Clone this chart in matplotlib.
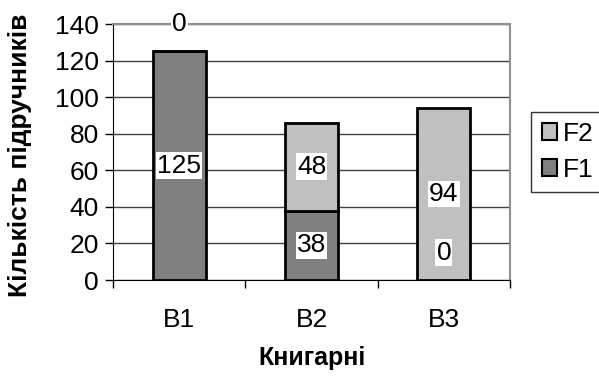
import matplotlib.pyplot as plt
import numpy as np

plt.rcParams['font.family'] = ['Liberation Sans', 'DejaVu Sans']

# дані
kategorii = ['B1', 'B2', 'B3']
f1 = [125, 38, 0]
f2 = [0, 48, 94]

fig = plt.figure(figsize=(5.99, 3.77), dpi=100)
ax = fig.add_axes([113 / 599, 1 - 280 / 377, (510 - 113) / 599, (280 - 24) / 377])

x = np.arange(len(kategorii))
w = 0.4
ax.bar(x, f1, w, color='#808080', edgecolor='black', linewidth=2, label='F1', zorder=3)
ax.bar(x, f2, w, bottom=f1, color='#c0c0c0', edgecolor='black', linewidth=2, label='F2', zorder=3)

fs = 19
ax.set_xlim(-0.5, 2.5)
ax.set_ylim(0, 140)
ax.set_yticks(range(0, 141, 20))
ax.set_xticks([])
ax.set_xticks([-0.5, 0.5, 1.5, 2.5], minor=True)
ax.tick_params(axis='x', which='minor', length=6, width=1, color='black')
ax.tick_params(axis='y', length=6, width=1, labelsize=fs, pad=4)
for i, k in enumerate(kategorii):
    ax.text(i, -22, k, ha='center', va='center', fontsize=fs)

ax.grid(axis='y', color='#404040', linewidth=1, zorder=0)
for s in ['top', 'right']:
    ax.spines[s].set_color('#909090')
    ax.spines[s].set_linewidth(1.5)
for s in ['left', 'bottom']:
    ax.spines[s].set_color('black')

box = dict(facecolor='white', edgecolor='none', pad=1)
# підписи значень
for i in range(len(kategorii)):
    if f1[i] > 0:
        ax.text(i, f1[i] / 2, str(f1[i]), ha='center', va='center', fontsize=fs, bbox=box, zorder=5)
    if f2[i] > 0:
        ax.text(i, f1[i] + f2[i] / 2, str(f2[i]), ha='center', va='center', fontsize=fs, bbox=box, zorder=5)
# нульові підписи
ax.text(0, 140, str(f2[0]), ha='center', va='center', fontsize=fs, bbox=box, zorder=5, clip_on=False)
ax.text(2, 15, str(f1[2]), ha='center', va='center', fontsize=fs, bbox=box, zorder=5)

fig.text(20 / 599, 1 - 155 / 377, 'Кількість підручників', rotation=90, ha='center', va='center',
         fontsize=19, fontweight='bold')
fig.text((113 + 510) / 2 / 599, 1 - 358 / 377, 'Книгарні', ha='center', va='center',
         fontsize=18, fontweight='bold')

h, l = ax.get_legend_handles_labels()
leg = fig.legend(h[::-1], l[::-1], loc='center left', bbox_to_anchor=(531 / 599, 1 - 152 / 377),
                 fontsize=fs, frameon=True, fancybox=False, edgecolor='black',
                 handlelength=0.6, handleheight=0.6, handletextpad=0.2, borderpad=0.4,
                 labelspacing=0.45, borderaxespad=0)
leg.get_frame().set_linewidth(1)
for p in leg.get_patches():
    p.set_linewidth(1.5)

fig.savefig('out.png', dpi=100)
